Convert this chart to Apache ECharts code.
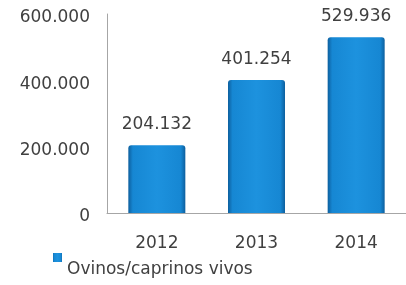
<!DOCTYPE html>
<html>
<head>
<meta charset="utf-8">
<script src="https://cdn.jsdelivr.net/npm/echarts@6/dist/echarts.min.js"></script>
<style>
  html, body { margin: 0; padding: 0; background: #fff; }
  #chart { width: 406px; height: 285px; }
</style>
</head>
<body>
<div id="chart"></div>
<script>
const years = ["2012", "2013", "2014"];
const ovinos = [204132, 401254, 529936];
const seriesName = "Ovinos/caprinos vivos";

// 204132 -> "204.132"
const fmt = (v) => String(v).replace(/\B(?=(\d{3})+(?!\d))/g, ".");

const font = "DejaVu Sans";
const textColor = "#404040";

const chart = echarts.init(document.getElementById("chart"));
chart.setOption({
  backgroundColor: "#fff",
  animation: false,
  grid: { left: 107, right: -1, top: 14, bottom: 72 },
  legend: {
    data: [seriesName],
    left: 53,
    top: 253,
    padding: 0,
    itemWidth: 9,
    itemHeight: 9,
    icon: "rect",
    formatter: (name) => "{a|" + name + "}",
    textStyle: {
      fontFamily: font,
      fontSize: 17,
      color: textColor,
      rich: { a: { fontFamily: font, fontSize: 17, color: textColor, padding: [24, 0, 0, 0] } },
    },
  },
  xAxis: {
    type: "category",
    data: years,
    axisLine: { lineStyle: { color: "#a6a6a6", width: 1 } },
    axisTick: { show: false },
    axisLabel: { fontFamily: font, fontSize: 17, color: textColor, margin: 22 },
  },
  yAxis: {
    type: "value",
    min: 0,
    max: 600000,
    interval: 200000,
    axisLine: { show: true, lineStyle: { color: "#a6a6a6", width: 1 } },
    axisTick: { show: false },
    splitLine: { show: false },
    axisLabel: {
      fontFamily: font, fontSize: 17, color: textColor, margin: 17,
      formatter: (v) => "{t|" + fmt(v) + "}",
      rich: { t: { fontFamily: font, fontSize: 17, color: textColor, padding: [8, 0, 0, 0] } },
    },
  },
  series: [
    {
      name: seriesName,
      type: "bar",
      data: ovinos,
      barWidth: 57,
      itemStyle: {
        borderRadius: [3, 3, 0, 0],
        color: new echarts.graphic.LinearGradient(0, 0, 1, 0, [
          { offset: 0, color: "#0d5f9e" },
          { offset: 0.08, color: "#1687d3" },
          { offset: 0.5, color: "#1d92de" },
          { offset: 0.92, color: "#1687d3" },
          { offset: 1, color: "#0d5f9e" },
        ]),
      },
      label: {
        show: true,
        position: "top",
        distance: 12,
        fontFamily: font,
        fontSize: 17,
        color: textColor,
        formatter: (p) => fmt(p.value),
      },
    },
  ],
});
</script>
</body>
</html>
